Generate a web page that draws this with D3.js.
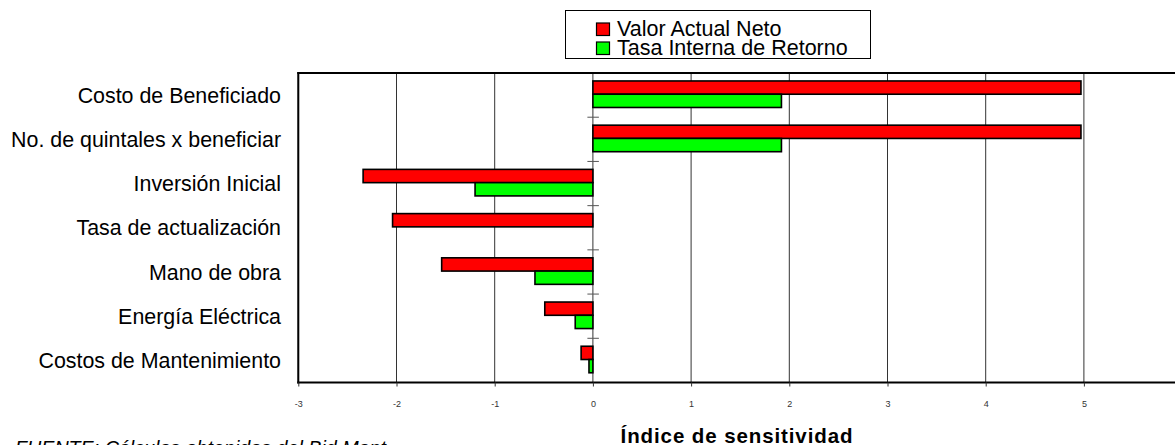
<!DOCTYPE html>
<html>
<head>
<meta charset="utf-8">
<script src="https://cdn.jsdelivr.net/npm/d3@7/dist/d3.min.js"></script>
<style>
  html, body { margin: 0; padding: 0; background: #fff; }
  svg { display: block; }
  text { font-family: "Liberation Sans", Arial, sans-serif; }
</style>
</head>
<body>
<svg id="chart" width="1175" height="445"></svg>
<script>
// ---- data ----
const categories = [
  "Costo de Beneficiado",
  "No. de quintales x beneficiar",
  "Inversión Inicial",
  "Tasa de actualización",
  "Mano de obra",
  "Energía Eléctrica",
  "Costos de Mantenimiento"
];
const seriesNames = ["Valor Actual Neto", "Tasa Interna de Retorno"];
const van = [4.97, 4.97, -2.34, -2.04, -1.54, -0.49, -0.12];
const tir = [1.92, 1.92, -1.20, 0, -0.59, -0.18, -0.04];
const xTicks = [-3, -2, -1, 0, 1, 2, 3, 4, 5];
const seriesColors = ["#FF0000", "#00FF00"];
const axisTitle = "Índice de sensitividad";
const sourceNote = "FUENTE: Cálculos obtenidos del Bid Mont";

// ---- layout ----
const svg = d3.select("#chart");
const plotLeft = 298.3, plotTop = 73, plotBottom = 382.5;
const unit = 98.2;
const x = d3.scaleLinear().domain([-3, 6]).range([plotLeft, plotLeft + 9 * unit]);
const y = d3.scaleBand().domain(categories).range([plotTop, plotBottom]).paddingInner(0).paddingOuter(0);
const bw = y.bandwidth();
const ys = d3.scaleBand().domain(seriesNames).range([bw * 0.18, bw * 0.78]).padding(0);

// gridlines
svg.append("g").selectAll("line").data(xTicks).join("line")
  .attr("x1", d => x(d)).attr("x2", d => x(d))
  .attr("y1", plotTop).attr("y2", plotBottom)
  .attr("stroke", "#333").attr("stroke-width", 1);

// bars
const rows = categories.map((c, i) => ({ c, vals: [van[i], tir[i]] }));
const g = svg.append("g");
rows.forEach(r => {
  r.vals.forEach((v, j) => {
    if (v === 0) return;
    g.append("rect")
      .attr("x", x(Math.min(0, v)))
      .attr("y", y(r.c) + ys(seriesNames[j]))
      .attr("width", Math.abs(x(v) - x(0)))
      .attr("height", ys.bandwidth())
      .attr("fill", seriesColors[j])
      .attr("stroke", "#000")
      .attr("stroke-width", 1.6);
  });
});

// category ticks on zero line
const catBounds = categories.slice(1).map(c => y(c));
svg.append("g").selectAll("line").data(catBounds).join("line")
  .attr("x1", x(0) - 5.5).attr("x2", x(0) + 6)
  .attr("y1", d => d).attr("y2", d => d)
  .attr("stroke", "#555").attr("stroke-width", 1);

// frame: left, top
svg.append("line").attr("x1", plotLeft).attr("x2", plotLeft).attr("y1", plotTop - 1).attr("y2", plotBottom + 1)
  .attr("stroke", "#000").attr("stroke-width", 2);
svg.append("line").attr("x1", plotLeft - 1).attr("x2", 1175).attr("y1", plotTop).attr("y2", plotTop)
  .attr("stroke", "#000").attr("stroke-width", 2);

// bottom axis
const xAxis = d3.axisBottom(x).tickValues(xTicks).tickSize(4).tickPadding(14).tickFormat(d => String(d));
const ax = svg.append("g").attr("transform", `translate(0,${plotBottom})`).call(xAxis);
ax.select(".domain").attr("d", `M${plotLeft - 1},0H1175`).attr("stroke", "#000").attr("stroke-width", 2);
ax.selectAll(".tick line").attr("stroke", "#333");
ax.selectAll(".tick text").attr("font-size", 9).attr("fill", "#333")
  .attr("font-family", "Liberation Sans, Arial, sans-serif");

// category labels
svg.append("g").selectAll("text").data(categories).join("text")
  .attr("x", 281).attr("y", d => y(d) + bw / 2)
  .attr("dy", "0.36em")
  .attr("text-anchor", "end")
  .attr("font-size", 21.4)
  .attr("fill", "#000")
  .text(d => d);

// axis title
svg.append("text")
  .attr("x", 737).attr("y", 443)
  .attr("text-anchor", "middle")
  .attr("font-size", 20.5).attr("font-weight", "bold")
  .attr("letter-spacing", "0.9px")
  .text(axisTitle);

// source note
svg.append("text")
  .attr("x", 15).attr("y", 455)
  .attr("font-size", 19.7).attr("font-style", "italic")
  .text(sourceNote);

// legend
const lg = svg.append("g");
lg.append("rect").attr("x", 565.5).attr("y", 10.5).attr("width", 305).attr("height", 48)
  .attr("fill", "#fff").attr("stroke", "#000").attr("stroke-width", 1);
seriesNames.forEach((s, i) => {
  lg.append("rect").attr("x", 596.5).attr("y", 23 + i * 19).attr("width", 13).attr("height", 12.5)
    .attr("fill", seriesColors[i]).attr("stroke", "#000").attr("stroke-width", 1.2);
  lg.append("text").attr("x", 617).attr("y", 35.5 + i * 19)
    .attr("font-size", 21.5).text(s);
});
</script>
</body>
</html>
